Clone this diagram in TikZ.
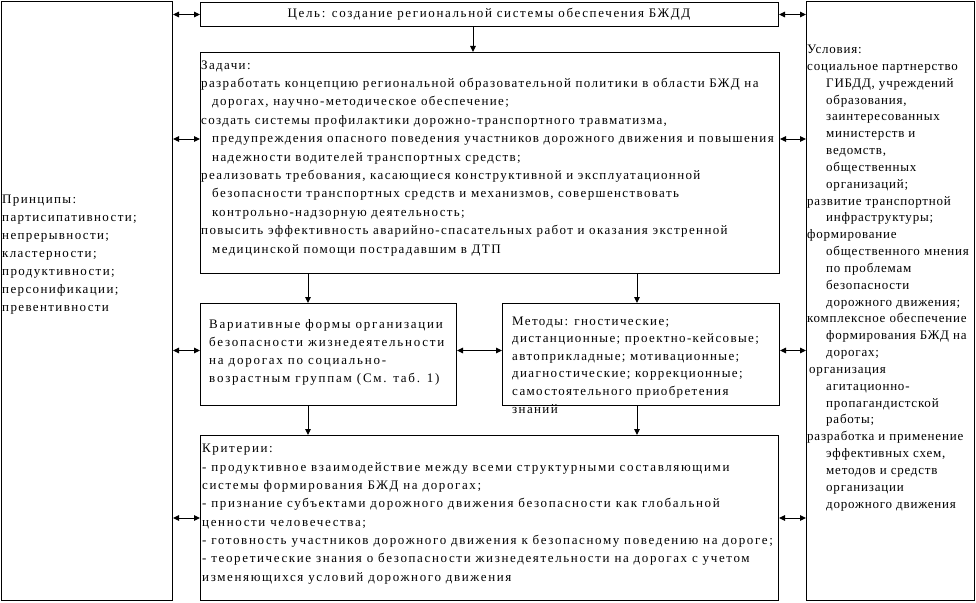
\documentclass[tikz,border=0pt]{standalone}
\usepackage{fontspec}
\setmainfont{Liberation Serif}[LetterSpace=12.5]
\newfontfamily\taskfont{Liberation Serif}[LetterSpace=10.5]
\newfontfamily\condfont{Liberation Serif}[LetterSpace=6]
\newfontfamily\formfont{Liberation Serif}[LetterSpace=13.5]
\usetikzlibrary{arrows.meta}
\newcommand{\indz}{\hspace*{11pt}}
\newcommand{\indu}{\hspace*{19pt}}
\begin{document}
\begin{tikzpicture}[
  x = 1pt, y = -1pt,
  box/.style  = {draw, line width=1pt, anchor=north west, inner sep=0pt},
  txt/.style  = {anchor=base west, inner sep=0pt, align=left,
                 font=\fontsize{13}{18.4}\selectfont},
  dbl/.style  = {{Triangle[length=6pt, width=5.5pt]}-{Triangle[length=6pt, width=5.5pt]}, line width=1pt},
  arr/.style  = {-{Triangle[length=6pt, width=5.5pt]}, line width=1pt}
]
\useasboundingbox (0,0) rectangle (976,602);
% Boxes
\node[box, minimum width=171pt, minimum height=599pt] (prin) at (1,1) {};
\node[box, minimum width=578pt, minimum height=24pt]  (goal) at (200,2) {};
\node[box, minimum width=168pt, minimum height=599pt] (cond) at (806,1) {};
\node[box, minimum width=579pt, minimum height=221pt] (task) at (200,52) {};
\node[box, minimum width=256pt, minimum height=102pt] (form) at (200,303) {};
\node[box, minimum width=277pt, minimum height=102pt] (meth) at (502,303) {};
\node[box, minimum width=578pt, minimum height=165pt] (crit) at (200,435) {};

% Texts (anchored at the baseline of their last line)
\node[txt, anchor=base] (goaltxt) at (489,18) {Цель: создание региональной системы обеспечения БЖДД};
\node[txt, font=\fontsize{13}{18}\selectfont\taskfont] (printxt) at (2,311) {Принципы:\\
  партисипативности;\\
  непрерывности;\\
  кластерности;\\
  продуктивности;\\
  персонификации;\\
  превентивности};
\node[txt, font=\fontsize{13}{18.4}\selectfont\taskfont] (tasktxt) at (201,253) {Задачи:\\
  разработать концепцию региональной образовательной политики в области БЖД на\\
  \indz дорогах, научно-методическое обеспечение;\\
  создать системы профилактики дорожно-транспортного травматизма,\\
  \indz предупреждения опасного поведения участников дорожного движения и повышения\\
  \indz надежности водителей транспортных средств;\\
  реализовать требования, касающиеся конструктивной и эксплуатационной\\
  \indz безопасности транспортных средств и механизмов, совершенствовать\\
  \indz контрольно-надзорную деятельность;\\
  повысить эффективность аварийно-спасательных работ и оказания экстренной\\
  \indz медицинской помощи пострадавшим в ДТП};
\node[txt, font=\fontsize{13}{16.83}\selectfont\condfont] (condtxt) at (807,508) {Условия:\\
  социальное партнерство\\
  \indu ГИБДД, учреждений\\
  \indu образования,\\
  \indu заинтересованных\\
  \indu министерств и\\
  \indu ведомств,\\
  \indu общественных\\
  \indu организаций;\\
  развитие транспортной\\
  \indu инфраструктуры;\\
  формирование\\
  \indu общественного мнения\\
  \indu по проблемам\\
  \indu безопасности\\
  \indu дорожного движения;\\
  комплексное обеспечение\\
  \indu формирования БЖД на\\
  \indu дорогах;\\
  \hspace*{2pt}организация\\
  \indu агитационно-\\
  \indu пропагандистской\\
  \indu работы;\\
  разработка и применение\\
  \indu эффективных схем,\\
  \indu методов и средств\\
  \indu организации\\
  \indu дорожного движения};
\node[txt, font=\fontsize{13}{18}\selectfont\formfont] (formtxt) at (209,382) {Вариативные формы организации\\
  безопасности жизнедеятельности\\
  на дорогах по социально-\\
  возрастным группам (См. таб. 1)};
\node[txt, font=\fontsize{13}{17.6}\selectfont\taskfont] (methtxt) at (512,413) {Методы: гностические;\\
  дистанционные; проектно-кейсовые;\\
  автоприкладные; мотивационные;\\
  диагностические; коррекционные;\\
  самостоятельного приобретения\\
  знаний};
\node[txt, font=\fontsize{13}{18.3}\selectfont] (crittxt) at (202,581) {Критерии:\\
  - продуктивное взаимодействие между всеми структурными составляющими\\
  системы формирования БЖД на дорогах;\\
  - признание субъектами дорожного движения безопасности как глобальной\\
  ценности человечества;\\
  - готовность участников дорожного движения к безопасному поведению на дороге;\\
  - теоретические знания о безопасности жизнедеятельности на дорогах с учетом\\
  изменяющихся условий дорожного движения};

% Arrow columns and rows
\coordinate (c1) at (473,0);
\coordinate (c2) at (308,0);
\coordinate (c3) at (637,0);
\coordinate (r1) at ([yshift=24pt]task.west);
\coordinate (r2) at ([yshift=4pt]form.west);

% Arrows down
\draw[arr] (goal.south -| c1) -- (task.north -| c1);
\draw[arr] (task.south -| c2) -- (form.north -| c2);
\draw[arr] (task.south -| c3) -- (meth.north -| c3);
\draw[arr] (form.south -| c2) -- (crit.north -| c2);
\draw[arr] (meth.south -| c3) -- (crit.north -| c3);
\draw[dbl] (form.east |- r2) -- (meth.west |- r2);

% Arrows left
\draw[dbl] (prin.east |- goal.west) -- (goal.west);
\draw[dbl] (prin.east |- r1) -- (task.west |- r1);
\draw[dbl] (prin.east |- r2) -- (form.west |- r2);
\draw[dbl] (prin.east |- crit.west) -- (crit.west);

% Arrows right
\draw[dbl] (goal.east) -- (goal.east -| cond.west);
\draw[dbl] (task.east |- r1) -- (cond.west |- r1);
\draw[dbl] (meth.east |- r2) -- (cond.west |- r2);
\draw[dbl] (crit.east) -- (crit.east -| cond.west);
\end{tikzpicture}
\end{document}
